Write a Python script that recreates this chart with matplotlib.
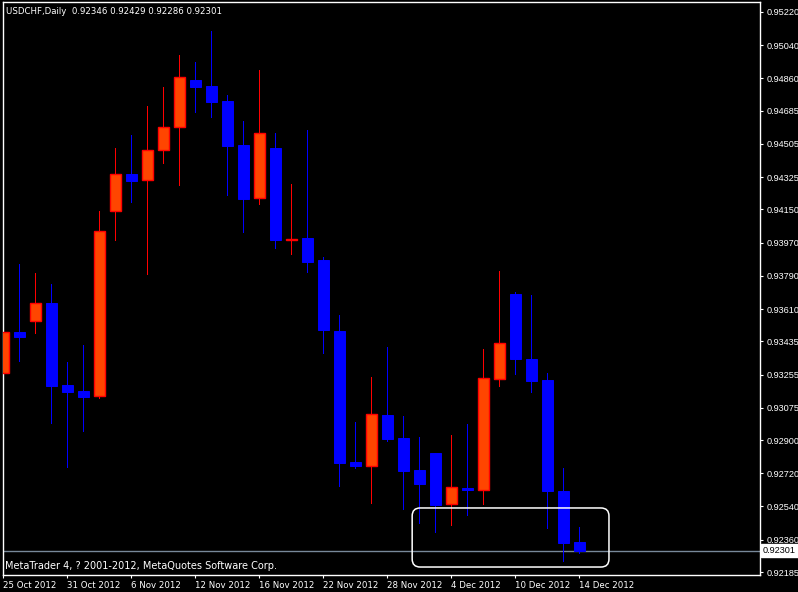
import pandas as pd
import numpy as np
import matplotlib
matplotlib.use('Agg')
import matplotlib.pyplot as plt
from matplotlib.patches import FancyBboxPatch
import matplotlib.transforms as mtransforms

# daily USDCHF bars
dates = ['2012-10-25', '2012-10-26', '2012-10-29', '2012-10-30', '2012-10-31',
         '2012-11-01', '2012-11-02', '2012-11-05', '2012-11-06', '2012-11-07',
         '2012-11-08', '2012-11-09', '2012-11-12', '2012-11-13', '2012-11-14',
         '2012-11-15', '2012-11-16', '2012-11-19', '2012-11-20', '2012-11-21',
         '2012-11-22', '2012-11-23', '2012-11-26', '2012-11-27', '2012-11-28',
         '2012-11-29', '2012-11-30', '2012-12-03', '2012-12-04', '2012-12-05',
         '2012-12-06', '2012-12-07', '2012-12-10', '2012-12-11', '2012-12-12',
         '2012-12-13', '2012-12-14']
opens = [0.93264, 0.93486, 0.93545, 0.93643, 0.93199, 0.93166, 0.93139, 0.94142,
         0.94342, 0.94310, 0.94472, 0.94597, 0.94852, 0.94819, 0.94738, 0.94499,
         0.94212, 0.94483, 0.93987, 0.93995, 0.93876, 0.93491, 0.92781, 0.92760,
         0.93036, 0.92911, 0.92738, 0.92830, 0.92554, 0.92640, 0.92629, 0.93231,
         0.93692, 0.93340, 0.93226, 0.92624, 0.92346]
highs = [0.93562, 0.93854, 0.93806, 0.93746, 0.93323, 0.93415, 0.94142, 0.94483,
         0.94554, 0.94711, 0.94814, 0.94987, 0.94949, 0.95117, 0.94770, 0.94629,
         0.94906, 0.94564, 0.94288, 0.94581, 0.93892, 0.93578, 0.92998, 0.93242,
         0.93405, 0.93031, 0.92917, 0.92832, 0.92928, 0.92987, 0.93394, 0.93816,
         0.93703, 0.93686, 0.93264, 0.92749, 0.92429]
lows = [0.92895, 0.93329, 0.93480, 0.92993, 0.92754, 0.92949, 0.93128, 0.93984,
        0.94190, 0.93800, 0.94402, 0.94283, 0.94678, 0.94651, 0.94228, 0.94028,
        0.94180, 0.93941, 0.93909, 0.93811, 0.93372, 0.92651, 0.92749, 0.92559,
        0.92895, 0.92527, 0.92451, 0.92402, 0.92440, 0.92494, 0.92554, 0.93193,
        0.93258, 0.93161, 0.92424, 0.92245, 0.92286]
closes = [0.93486, 0.93459, 0.93643, 0.93193, 0.93161, 0.93134, 0.94033, 0.94342,
          0.94304, 0.94472, 0.94597, 0.94868, 0.94814, 0.94732, 0.94494, 0.94207,
          0.94564, 0.93984, 0.93990, 0.93865, 0.93497, 0.92776, 0.92760, 0.93041,
          0.92906, 0.92732, 0.92662, 0.92548, 0.92646, 0.92632, 0.93237, 0.93426,
          0.93340, 0.93220, 0.92624, 0.92342, 0.92301]

price_ticks = [0.95220, 0.95040, 0.94860, 0.94685, 0.94505, 0.94325, 0.94150,
               0.93970, 0.93790, 0.93610, 0.93435, 0.93255, 0.93075, 0.92900,
               0.92720, 0.92540, 0.92360, 0.92185]

df = pd.DataFrame({'Date': pd.to_datetime(dates), 'Open': opens, 'High': highs,
                   'Low': lows, 'Close': closes})
df['Up'] = df['Close'] >= df['Open']
x = np.arange(len(df))

bull_fill = '#FF4500'
bull_edge = '#FF0000'
bear = '#0000FF'

plt.rcParams['font.family'] = ['DejaVu Sans']
fs = 6.2
num_font = 'Liberation Sans'   # narrower digits for the price scale

fig = plt.figure(figsize=(7.98, 5.92), dpi=100, facecolor='black')
ax = fig.add_axes([0.0034, 0.0287, 0.949, 0.968])
ax.set_facecolor('black')

# wicks
wick_col = [bull_edge if u else bear for u in df['Up']]
ax.vlines(x, df['Low'], df['High'], colors=wick_col, linewidth=0.72,
          antialiased=False, zorder=2)

# bodies
up = df[df['Up']]
dn = df[~df['Up']]
ax.bar(x[df['Up'].values], (up['Close'] - up['Open']).clip(lower=0.00003),
       bottom=up['Open'], width=0.69, color=bull_fill, edgecolor=bull_edge,
       linewidth=1, zorder=3)
ax.bar(x[~df['Up'].values], (dn['Open'] - dn['Close']).clip(lower=0.00003),
       bottom=dn['Close'], width=0.69, color=bear, edgecolor=bear,
       linewidth=0.7, zorder=3)

ax.set_xlim(-0.04, 47.29)
ax.set_ylim(0.921687, 0.952744)

# current price line and label
last = closes[-1]
ax.axhline(last, color='#778899', linewidth=1, zorder=1)
trans = mtransforms.blended_transform_factory(ax.transAxes, ax.transData)
ax.text(1.004, last, '{:.5f}'.format(last), transform=trans, color='black',
        fontsize=6.6, family=num_font, va='center', ha='left', clip_on=False,
        bbox=dict(boxstyle='square,pad=0.2', facecolor='white', edgecolor='white'))

# highlight box drawn on the screenshot
box = FancyBboxPatch((25.55, 0.92212), 12.3, 0.0032,
                     boxstyle='round,pad=0,rounding_size=0.5',
                     mutation_aspect=0.000868, facecolor='none',
                     edgecolor='white', linewidth=1.1, zorder=4)
ax.add_patch(box)

# axes styling
for s in ax.spines.values():
    s.set_color('white')
    s.set_linewidth(1)
ax.yaxis.tick_right()
ax.set_yticks(price_ticks)
ax.set_yticklabels(['{:.5f}'.format(p) for p in price_ticks], family=num_font)
ax.tick_params(axis='y', colors='white', labelsize=6.6, length=2.5, width=0.8, pad=2)

tick_idx = x[::4]
ax.set_xticks(tick_idx)
ax.set_xticklabels(['{} {}'.format(d.day, d.strftime('%b %Y')) for d in df['Date'].iloc[::4]],
                   ha='left')
ax.tick_params(axis='x', colors='white', labelsize=fs, length=2.5, width=0.8, pad=1.5)

o, h, l, c = opens[-1], highs[-1], lows[-1], closes[-1]
ax.text(0.004, 0.984, 'USDCHF,Daily  {:.5f} {:.5f} {:.5f} {:.5f}'.format(o, h, l, c),
        transform=ax.transAxes, color='white', fontsize=fs, va='center', ha='left')
ax.text(0.003, 0.0157, 'MetaTrader 4, ? 2001-2012, MetaQuotes Software Corp.',
        transform=ax.transAxes, color='white', fontsize=7.0, va='center', ha='left')

fig.savefig('out.png', dpi=100, facecolor='black')
